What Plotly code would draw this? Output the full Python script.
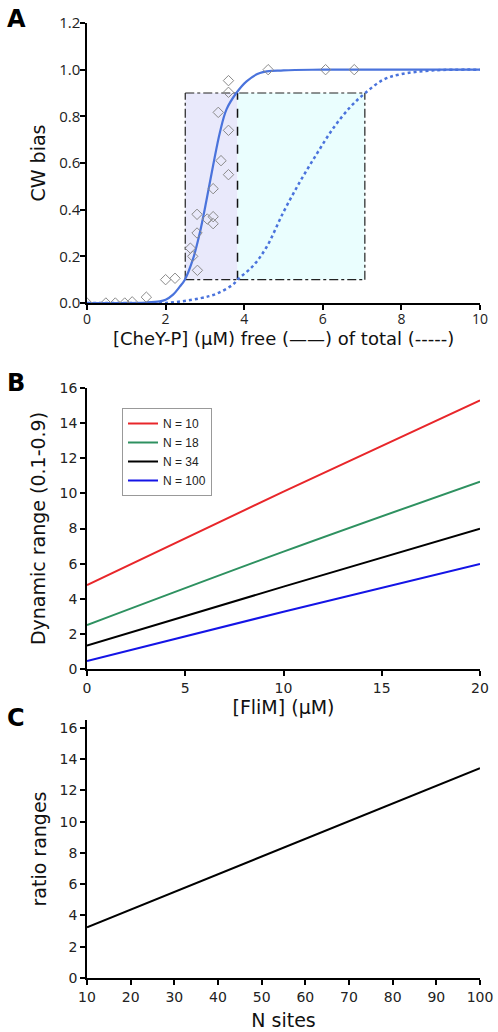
import plotly.graph_objects as go

# ---------- Panel A data ----------
free_x = [0, 1.0, 1.5, 1.85, 2.0, 2.19, 2.36, 2.49, 2.7, 2.87, 3.04, 3.21, 3.38, 3.55, 3.8, 4.06, 4.4, 5.0, 6.0, 8.0, 10.0]
free_y = [0, 0.0, 0.002, 0.007, 0.014, 0.036, 0.07, 0.1, 0.19, 0.3, 0.44, 0.59, 0.73, 0.83, 0.9, 0.95, 0.986, 0.997, 1.0, 1.0, 1.0]
total_x = [0, 1.0, 2.0, 2.87, 3.3, 3.72, 3.83, 4.23, 4.57, 5.0, 5.42, 5.85, 6.27, 6.7, 7.08, 7.54, 7.97, 8.82, 10.0]
total_y = [0, 0.0, 0.0, 0.02, 0.04, 0.08, 0.1, 0.16, 0.24, 0.39, 0.52, 0.64, 0.75, 0.84, 0.9, 0.957, 0.98, 0.997, 1.0]
obs_x = [0, 0.48, 0.72, 0.96, 1.15, 1.51, 2.0, 2.24, 2.63, 2.69, 2.81, 2.8, 2.8, 3.06, 3.21, 3.21, 3.21, 3.41, 3.34, 3.6, 3.6, 3.6, 3.6, 4.61, 6.07, 6.8]
obs_y = [0, 0, 0, 0, 0.005, 0.025, 0.1, 0.106, 0.235, 0.2, 0.14, 0.3, 0.38, 0.36, 0.37, 0.34, 0.49, 0.61, 0.817, 0.74, 0.55, 0.953, 0.903, 1.0, 1.0, 1.0]
box_x = [2.5, 3.83, 7.07]
box_y = [0.1, 0.9]

# ---------- Panel B data ----------
flim_x = [0, 10, 20]
range_N10 = [4.78, 10.1, 15.3]
range_N18 = [2.5, 6.68, 10.67]
range_N34 = [1.33, 4.69, 7.99]
range_N100 = [0.46, 3.26, 5.98]
series_names = ["N = 10", "N = 18", "N = 34", "N = 100"]
series_colors = ["#e8262a", "#2e9160", "#000000", "#1414e6"]

# ---------- Panel C data ----------
nsites_x = [10, 50, 100]
ratio_y = [3.24, 7.76, 13.42]

W, H = 498, 1032
def px_x(a, b):
    return [a / W, b / W]
def px_y(top, bottom):
    return [1 - bottom / H, 1 - top / H]

fig = go.Figure()
blue = "#4a73dc"

# Panel A
fig.add_trace(go.Scatter(x=total_x, y=total_y, mode="lines", line=dict(color=blue, width=2.5, dash="dot", shape="spline"),
                         xaxis="x", yaxis="y", showlegend=False))
fig.add_trace(go.Scatter(x=free_x, y=free_y, mode="lines", line=dict(color=blue, width=2.2, shape="spline"),
                         xaxis="x", yaxis="y", showlegend=False))
fig.add_trace(go.Scatter(x=obs_x, y=obs_y, mode="markers",
                         marker=dict(symbol="diamond-open", size=8, color="#8a8a8a", line=dict(width=1)),
                         xaxis="x", yaxis="y", showlegend=False))

# Panel B
for ys, nm, c in zip([range_N10, range_N18, range_N34, range_N100], series_names, series_colors):
    fig.add_trace(go.Scatter(x=flim_x, y=ys, mode="lines", name=nm, line=dict(color=c, width=2, shape="spline"),
                             xaxis="x2", yaxis="y2", showlegend=True))

# Panel C
fig.add_trace(go.Scatter(x=nsites_x, y=ratio_y, mode="lines", line=dict(color="black", width=2),
                         xaxis="x3", yaxis="y3", showlegend=False))

shapes = []
shapes.append(dict(type="rect", xref="x", yref="y", x0=box_x[0], x1=box_x[1], y0=box_y[0], y1=box_y[1],
                   fillcolor="#e9e9fb", line=dict(width=0), layer="below"))
shapes.append(dict(type="rect", xref="x", yref="y", x0=box_x[1], x1=box_x[2], y0=box_y[0], y1=box_y[1],
                   fillcolor="#eafefe", line=dict(width=0), layer="below"))
dd = dict(color="#222222", width=1.2, dash="dashdot")
for yy in box_y:
    shapes.append(dict(type="line", xref="x", yref="y", x0=box_x[0], x1=box_x[2], y0=yy, y1=yy, line=dd, layer="below"))
shapes.append(dict(type="line", xref="x", yref="y", x0=box_x[0], x1=box_x[0], y0=box_y[0], y1=box_y[1], line=dd, layer="below"))
shapes.append(dict(type="line", xref="x", yref="y", x0=box_x[2], x1=box_x[2], y0=box_y[0], y1=box_y[1], line=dd, layer="below"))
shapes.append(dict(type="line", xref="x", yref="y", x0=box_x[1], x1=box_x[1], y0=box_y[0], y1=box_y[1],
                   line=dict(color="#111111", width=1.5, dash="dash"), layer="below"))

axis_common = dict(showline=True, linecolor="black", linewidth=1.5, ticks="outside", ticklen=5, tickwidth=1.5,
                   tickcolor="black", showgrid=False, zeroline=False, mirror=False, automargin=False)
tickfont = dict(family="DejaVu Sans", size=14, color="#222")
titlefont = dict(family="DejaVu Sans", size=19, color="#111")

fig.update_layout(
    width=W, height=H, margin=dict(l=0, r=0, t=0, b=0),
    paper_bgcolor="white", plot_bgcolor="white",
    shapes=shapes,
    xaxis=dict(domain=px_x(87, 480), anchor="y", range=[0, 10], tickvals=[0, 2, 4, 6, 8, 10],
               tickfont=dict(family="Open Sans", size=14, color="#222"), ticklabelstandoff=-3, **axis_common),
    yaxis=dict(domain=px_y(23, 303), anchor="x", range=[0, 1.2], tickvals=[0, 0.2, 0.4, 0.6, 0.8, 1.0, 1.2],
               tickformat=".1f", tickfont=dict(family="Open Sans", size=15, color="#222"), ticklabelstandoff=-3,
               title=dict(text="CW bias", font=titlefont, standoff=9), **axis_common),
    xaxis2=dict(domain=px_x(87, 480), anchor="y2", range=[0, 20], tickvals=[0, 5, 10, 15, 20], tickfont=tickfont,
                title=dict(text="[FliM] (µM)", font=titlefont, standoff=2), **axis_common),
    yaxis2=dict(domain=px_y(388, 669), anchor="x2", range=[0, 16], tickvals=list(range(0, 17, 2)), tickfont=tickfont,
                title=dict(text="Dynamic range (0.1-0.9)", font=titlefont, standoff=9), **axis_common),
    xaxis3=dict(domain=px_x(87, 480), anchor="y3", range=[10, 100], tickvals=list(range(10, 101, 10)), tickfont=tickfont,
                title=dict(text="N sites", font=titlefont, standoff=10), **axis_common),
    yaxis3=dict(domain=px_y(720, 978), anchor="x3", range=[0, 16.5], tickvals=list(range(0, 17, 2)), tickfont=tickfont,
                title=dict(text="ratio ranges", font=titlefont, standoff=8), **axis_common),
    legend=dict(x=122 / W, y=1 - 408 / H, xanchor="left", yanchor="top", bgcolor="white", bordercolor="#999",
                borderwidth=1, font=dict(family="Liberation Sans", size=12, color="#222"), itemwidth=30,
                tracegroupgap=0),
    annotations=[
        dict(text="[CheY-P] (µM) free (——) of total (-----)", x=(87 + 480) / 2 / W, y=1 - 339 / H,
             xref="paper", yref="paper", xanchor="center", yanchor="middle", showarrow=False,
             font=dict(family="DejaVu Sans", size=18, color="#111")),
        dict(text="<b>A</b>", x=5 / W, y=1 - 3 / H, xref="paper", yref="paper", xanchor="left", yanchor="top",
             showarrow=False, font=dict(family="DejaVu Sans", size=24, color="black")),
        dict(text="<b>B</b>", x=5 / W, y=1 - 367 / H, xref="paper", yref="paper", xanchor="left", yanchor="top",
             showarrow=False, font=dict(family="DejaVu Sans", size=24, color="black")),
        dict(text="<b>C</b>", x=5 / W, y=1 - 702 / H, xref="paper", yref="paper", xanchor="left", yanchor="top",
             showarrow=False, font=dict(family="DejaVu Sans", size=24, color="black")),
    ],
)

fig.write_html("out.html", config={"displayModeBar": False},
               post_script="document.body.style.margin='0';document.body.style.overflow='hidden';")
